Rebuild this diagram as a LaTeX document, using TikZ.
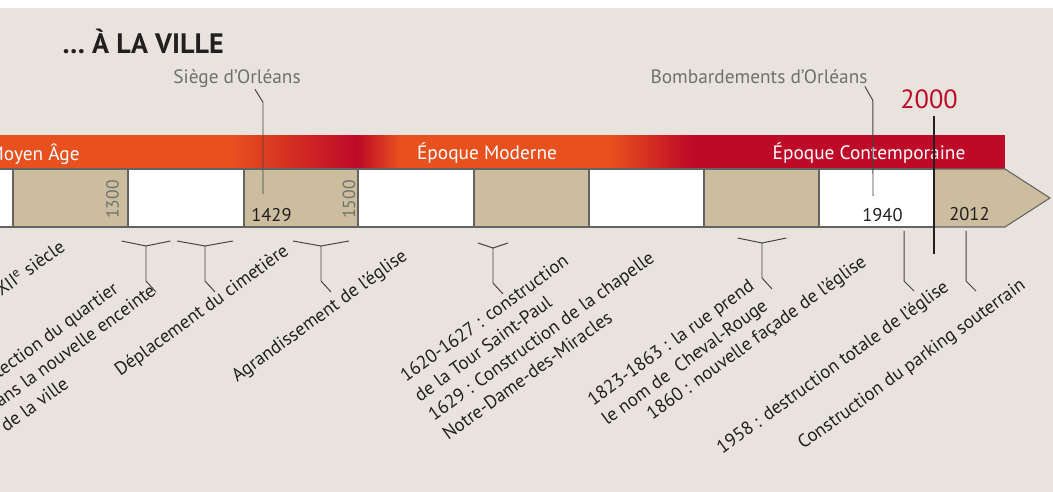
\documentclass[tikz,border=0pt]{standalone}
\usepackage{fontspec}
\setmainfont{PT Sans}
\definecolor{sand}{HTML}{E8E4DD}
\definecolor{khaki}{HTML}{CBBD9E}
\definecolor{vermilion}{HTML}{E8501E}
\definecolor{crimson}{HTML}{BE0A28}
\definecolor{slate}{HTML}{707070}
\definecolor{ink}{HTML}{231F20}

\begin{document}
\begin{tikzpicture}[x=0.02cm, y=-0.02cm]

\useasboundingbox (0,0) rectangle (1053,492);
\clip (0,0) rectangle (1053,492);
\fill[white] (0,0) rectangle (1053,8);
\fill[sand] (0,8) rectangle (1053,492);

\tikzstyle{slot}=[draw=ink!70, line width=0.6pt]
\tikzstyle{tick}=[draw=ink!85, line width=0.55pt]
\tikzstyle{epoch}=[text=white, inner sep=0, anchor=base, font=\fontsize{11}{13}\selectfont]
\tikzstyle{note}=[text=slate, inner sep=0, font=\fontsize{11}{13}\selectfont]
\tikzstyle{year}=[text=ink, inner sep=0, anchor=base west, font=\fontsize{10.5}{13}\selectfont]
\tikzstyle{yearv}=[text=slate, inner sep=0, anchor=base west, rotate=90, font=\fontsize{10}{12}\selectfont]
\tikzstyle{event}=[text=ink, inner sep=0, anchor=base west, rotate=36, align=left, font=\fontsize{10.6}{13.6}\selectfont]

\fill[vermilion] (0,135) rectangle (231,169);
\fill[vermilion] (399,135) rectangle (611,169);
\fill[crimson] (691,135) rectangle (1005,169);
\foreach \xa/\xb/\ca/\cb in {230/358/vermilion/crimson, 358/400/crimson/vermilion, 610/692/vermilion/crimson}
  \foreach \i in {0,...,40} {
    \pgfmathsetmacro\p{100-\i*2.5}
    \fill[\ca!\p!\cb] ({\xa+(\xb-\xa)*\i/41},135) rectangle ({\xa+(\xb-\xa)*(\i+1.3)/41},169);
  }

\foreach \xa/\xb/\col in {-5/13/white, 13/128/khaki, 128/244/white, 244/358/khaki,
  358/474/white, 474/589/khaki, 589/704/white, 704/819/khaki, 819/934/white}
  \filldraw[slot, fill=\col] (\xa,169) rectangle (\xb,227);
\filldraw[slot, fill=khaki] (934,169) -- (1005,169) -- (1050,198) -- (1005,227) -- (934,227) -- cycle;

\node[font=\bfseries\fontsize{16}{19}\selectfont, text=ink, inner sep=0, anchor=base west] (title) at (62,54) {… À LA VILLE};

\node[epoch, anchor=base east] (moyen) at (80,161) {Moyen Âge};
\node[epoch] (moderne) at (487,160) {Époque Moderne};
\node[epoch] (contemp) at (869,160) {Époque Contemporaine};

\node[yearv] (y1300) at (118.5,219) {1300};
\node[yearv] (y1500) at (355,219) {1500};
\node[year] (y1429) at (251,222) {1429};
\node[year] (y1940) at (862,222) {1940};
\node[year] (y2012) at (949,221) {2012};

\node[note] (siege) at (237,79) {Siège d’Orléans};
\node[note] (bombard) at (759,77) {Bombardements d’Orléans};
\node[text=crimson, inner sep=0, font=\fontsize{15}{18}\selectfont] (y2000) at (929,99) {2000};

\coordinate (c1429) at (263,194);
\coordinate (c1940) at (873,196);
\coordinate (c2000) at (934,254);
\draw[tick] (siege.south) ++(18,1) -- ++(8,13) -- (c1429);
\draw[tick] (bombard.south east) ++(-3,2) -- ++(8,14) -- (c1940);
\draw[ink, line width=1.5pt] (y2000.south -| c2000) ++(0,7) -- (c2000);

\foreach \xm/\hw/\yt in {146/24.5/241, 205/28/241, 321/28/241, 493/15/243, 762/24.5/238}
  \draw[tick] (\xm-\hw,\yt) -- (\xm,\yt+5) -- (\xm+\hw,\yt)
    (\xm,\yt+5) -- (\xm,\yt+40) -- ++(10,11);
\foreach \xm in {904,966}
  \draw[tick] (\xm,231) -- (\xm,281) -- ++(10,10);

\node[event] (siecle) at (1,297) {XII\textsuperscript{e} siècle};
\node[event] (quartier) at (6,433) {Protection du quartier\\dans la nouvelle enceinte\\de la ville};
\node[event] (cimetiere) at (120,377) {Déplacement du cimetière};
\node[event] (agrand) at (237,383) {Agrandissement de l’église};
\node[event] (tour) at (448,441) {1620-1627 : construction\\de la Tour Saint-Paul\\1629 : Construction de la chapelle\\Notre-Dame-des-Miracles};
\node[event] (cheval) at (607,426) {1823-1863 : la rue prend\\le nom de\ \ Cheval-Rouge};
\node[event] (facade) at (652,421) {1860 : nouvelle façade de l’église};
\node[event] (destr) at (722,455) {1958 : destruction totale de l’église};
\node[event] (parking) at (803,450) {Construction du parking souterrain};

\end{tikzpicture}
\end{document}
